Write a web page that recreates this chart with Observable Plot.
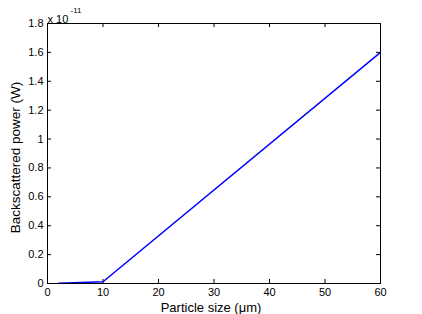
<!DOCTYPE html>
<html><head><meta charset="utf-8">
<script src="https://cdn.jsdelivr.net/npm/d3@7"></script>
<script src="https://cdn.jsdelivr.net/npm/@observablehq/plot@0.6"></script>
<style>body{margin:0;background:#fff;} svg{font-family:"Liberation Sans",Arial,sans-serif;}</style>
</head><body><div id="chart"></div>
<script>
const sizes = [2, 10, 60];
const power = [0.002, 0.012, 1.6];
const xTicks = [0, 10, 20, 30, 40, 50, 60];
const yTicks = [0, 0.2, 0.4, 0.6, 0.8, 1, 1.2, 1.4, 1.6, 1.8];
const data = sizes.map((s, i) => ({s, p: power[i]}));
const W = 422, H = 314, mL = 47, mR = 42, mT = 23, mB = 31;
const iw = W - mL - mR, ih = H - mT - mB;
const chart = Plot.plot({
  width: W, height: H,
  marginLeft: mL, marginRight: mR, marginTop: mT, marginBottom: mB,
  style: {fontFamily: "Liberation Sans, Arial, sans-serif", fontSize: "11px", color: "#000", background: "#fff"},
  x: {domain: [0, 60], ticks: xTicks},
  y: {domain: [0, 1.8], ticks: yTicks},
  marks: [
    Plot.axisX(xTicks, {tickSize: 0, tickPadding: 5, label: null, fontSize: 11}),
    Plot.axisY(yTicks, {tickSize: 0, tickPadding: 4, label: null, fontSize: 11, tickFormat: d => String(+d.toFixed(1))}),
    Plot.tickX(xTicks, {x: d => d, insetTop: ih - 4, stroke: "#000"}),
    Plot.tickX(xTicks, {x: d => d, insetBottom: ih - 4, stroke: "#000"}),
    Plot.tickY(yTicks, {y: d => d, insetRight: iw - 4, stroke: "#000"}),
    Plot.tickY(yTicks, {y: d => d, insetLeft: iw - 4, stroke: "#000"}),
    Plot.line(data, {x: "s", y: "p", stroke: "#0000ff", strokeWidth: 1.5}),
    Plot.frame({stroke: "#000", strokeWidth: 1}),
    Plot.text(["Backscattered power (W)"], {frameAnchor: "left", rotate: -90, dx: -32, dy: 4, textAnchor: "middle", lineAnchor: "middle", fontSize: 13.5, fill: "#000"}),
    Plot.text(["Particle size (μm)"], {frameAnchor: "bottom", dy: 24, dx: -3, textAnchor: "middle", lineAnchor: "middle", fontSize: 13, fill: "#000"}),
    Plot.text(["x 10"], {frameAnchor: "top-left", dy: -8, dx: 0, textAnchor: "start", fontSize: 11, fill: "#000"}),
    Plot.text(["-11"], {frameAnchor: "top-left", dy: -16, dx: 23, textAnchor: "start", fontSize: 8, fill: "#000"})
  ]
});
document.getElementById("chart").append(chart);
</script></body></html>
